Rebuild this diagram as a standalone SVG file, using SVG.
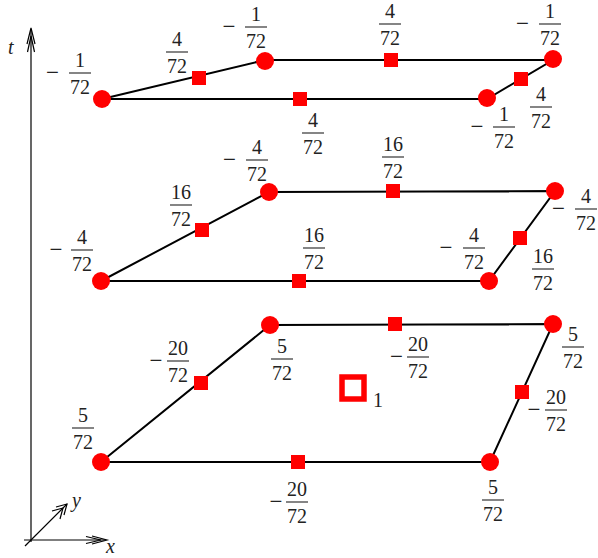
<svg xmlns="http://www.w3.org/2000/svg" width="598" height="558" viewBox="0 0 598 558">
<defs>
<style>
.e{stroke:#000;stroke-width:2;fill:none}
.ax{stroke:#000;stroke-width:1.2;fill:none}
.v{fill:#ff0000}
.s{fill:#ff0000}
.t{font-family:"Liberation Serif","DejaVu Serif",serif;font-size:20px;fill:#222;text-anchor:middle}
.m{font-family:"Liberation Serif","DejaVu Serif",serif;font-size:23px;fill:#222;text-anchor:middle}
.i{font-family:"Liberation Serif","DejaVu Serif",serif;font-size:20px;font-style:italic;fill:#222}
.b{stroke:#222;stroke-width:1.1}
</style>
</defs>
<g id="axes">
<line class="ax" x1="31" y1="542" x2="31" y2="29"/>
<path class="ax" d="M27,44 L31,28 L35,44 M27.5,52 L31,36 L34.5,52"/>
<line class="ax" x1="24" y1="540" x2="106" y2="540"/>
<path class="ax" d="M92,536 L107,540 L92,544 M86,536.5 L101,540 L86,543.5"/>
<line class="ax" x1="25" y1="546" x2="67" y2="504"/>
<path class="ax" d="M56,507 L67,504 L64,515 M52,511 L63,508 L60,519"/>
<text class="i" x="8" y="54">t</text>
<text class="i" x="72" y="507">y</text>
<text class="i" x="106" y="553">x</text>
</g>
<g id="connectors">
<polygon class="e" points="102,99 265,60 553,60 487,99"/>
<polygon class="e" points="101,281 269,192 555,191 489,281"/>
<polygon class="e" points="101,462 270,325 553,324 490,462"/>
</g>
<g id="layer-top">
<g id="t-v1"><circle class="v" cx="102" cy="99" r="9"/></g>
<g id="t-v2"><circle class="v" cx="265" cy="61" r="9"/></g>
<g id="t-v3"><circle class="v" cx="553" cy="59" r="9"/></g>
<g id="t-v4"><circle class="v" cx="487" cy="98" r="9"/></g>
<g id="t-s1"><rect class="s" x="192" y="71" width="14" height="14"/></g>
<g id="t-s2"><rect class="s" x="384" y="53" width="14" height="14"/></g>
<g id="t-s3"><rect class="s" x="514" y="72" width="14" height="14"/></g>
<g id="t-s4"><rect class="s" x="293" y="92" width="14" height="14"/></g>
</g>
<g id="layer-mid">
<g id="m-v1"><circle class="v" cx="101" cy="281" r="9"/></g>
<g id="m-v2"><circle class="v" cx="269" cy="192" r="9"/></g>
<g id="m-v3"><circle class="v" cx="555" cy="191" r="9"/></g>
<g id="m-v4"><circle class="v" cx="489" cy="281" r="9"/></g>
<g id="m-s1"><rect class="s" x="195" y="223" width="14" height="14"/></g>
<g id="m-s2"><rect class="s" x="386" y="184" width="14" height="14"/></g>
<g id="m-s3"><rect class="s" x="513" y="231" width="14" height="14"/></g>
<g id="m-s4"><rect class="s" x="292" y="274" width="14" height="14"/></g>
</g>
<g id="layer-bot">
<g id="b-v1"><circle class="v" cx="101" cy="462" r="9"/></g>
<g id="b-v2"><circle class="v" cx="270" cy="325" r="9"/></g>
<g id="b-v3"><circle class="v" cx="553" cy="324" r="9"/></g>
<g id="b-v4"><circle class="v" cx="490" cy="462" r="9"/></g>
<g id="b-s1"><rect class="s" x="194" y="376" width="14" height="14"/></g>
<g id="b-s2"><rect class="s" x="388" y="317" width="14" height="14"/></g>
<g id="b-s3"><rect class="s" x="515" y="385" width="14" height="14"/></g>
<g id="b-s4"><rect class="s" x="291" y="455" width="14" height="14"/></g>
<g id="b-open"><rect x="342" y="377" width="22" height="22" fill="none" stroke="#ff0000" stroke-width="5.5"/><text class="t" x="378" y="407">1</text></g>
</g>
<g id="labels">
<!-- top -->
<text class="m" x="52.5" y="80">−</text><text class="t" x="80" y="67">1</text><line class="b" x1="69" y1="73" x2="91" y2="73"/><text class="t" x="80" y="94">72</text>
<text class="t" x="177" y="46">4</text><line class="b" x1="166" y1="52" x2="188" y2="52"/><text class="t" x="177" y="73">72</text>
<text class="m" x="229" y="34">−</text><text class="t" x="256" y="21">1</text><line class="b" x1="245" y1="27" x2="267" y2="27"/><text class="t" x="256" y="48">72</text>
<text class="t" x="390" y="18">4</text><line class="b" x1="379" y1="24" x2="401" y2="24"/><text class="t" x="390" y="45">72</text>
<text class="m" x="522.5" y="31">−</text><text class="t" x="550" y="18">1</text><line class="b" x1="539" y1="24" x2="561" y2="24"/><text class="t" x="550" y="45">72</text>
<text class="t" x="541" y="101">4</text><line class="b" x1="530" y1="107" x2="552" y2="107"/><text class="t" x="541" y="128">72</text>
<text class="m" x="477" y="134">−</text><text class="t" x="504" y="121">1</text><line class="b" x1="493" y1="127" x2="515" y2="127"/><text class="t" x="504" y="148">72</text>
<text class="t" x="313" y="127">4</text><line class="b" x1="302" y1="133" x2="324" y2="133"/><text class="t" x="313" y="154">72</text>
<!-- middle -->
<text class="m" x="56" y="257">−</text><text class="t" x="82" y="244">4</text><line class="b" x1="71" y1="250" x2="93" y2="250"/><text class="t" x="82" y="271">72</text>
<text class="t" x="181" y="199">16</text><line class="b" x1="170" y1="205" x2="192" y2="205"/><text class="t" x="181" y="226">72</text>
<text class="m" x="229.5" y="167">−</text><text class="t" x="257" y="154">4</text><line class="b" x1="246" y1="160" x2="268" y2="160"/><text class="t" x="257" y="181">72</text>
<text class="t" x="393" y="151">16</text><line class="b" x1="382" y1="157" x2="404" y2="157"/><text class="t" x="393" y="178">72</text>
<text class="m" x="558.5" y="216">−</text><text class="t" x="586" y="203">4</text><line class="b" x1="575" y1="209" x2="597" y2="209"/><text class="t" x="586" y="230">72</text>
<text class="t" x="314" y="242">16</text><line class="b" x1="303" y1="248" x2="325" y2="248"/><text class="t" x="314" y="269">72</text>
<text class="m" x="446" y="255">−</text><text class="t" x="474" y="242">4</text><line class="b" x1="463" y1="248" x2="485" y2="248"/><text class="t" x="474" y="269">72</text>
<text class="t" x="543" y="263">16</text><line class="b" x1="532" y1="269" x2="554" y2="269"/><text class="t" x="543" y="290">72</text>
<!-- bottom -->
<text class="t" x="83" y="422">5</text><line class="b" x1="72" y1="428" x2="94" y2="428"/><text class="t" x="83" y="449">72</text>
<text class="m" x="156" y="368">−</text><text class="t" x="178" y="355">20</text><line class="b" x1="167" y1="361" x2="189" y2="361"/><text class="t" x="178" y="382">72</text>
<text class="t" x="282" y="353">5</text><line class="b" x1="271" y1="359" x2="293" y2="359"/><text class="t" x="282" y="380">72</text>
<text class="m" x="396.5" y="364">−</text><text class="t" x="418" y="351">20</text><line class="b" x1="407" y1="357" x2="429" y2="357"/><text class="t" x="418" y="378">72</text>
<text class="t" x="573" y="341">5</text><line class="b" x1="562" y1="347" x2="584" y2="347"/><text class="t" x="573" y="368">72</text>
<text class="m" x="534" y="417">−</text><text class="t" x="556" y="404">20</text><line class="b" x1="545" y1="410" x2="567" y2="410"/><text class="t" x="556" y="431">72</text>
<text class="t" x="493" y="494">5</text><line class="b" x1="482" y1="500" x2="504" y2="500"/><text class="t" x="493" y="521">72</text>
<text class="m" x="276" y="509">−</text><text class="t" x="297" y="496">20</text><line class="b" x1="286" y1="502" x2="308" y2="502"/><text class="t" x="297" y="523">72</text>
</g>
</svg>
